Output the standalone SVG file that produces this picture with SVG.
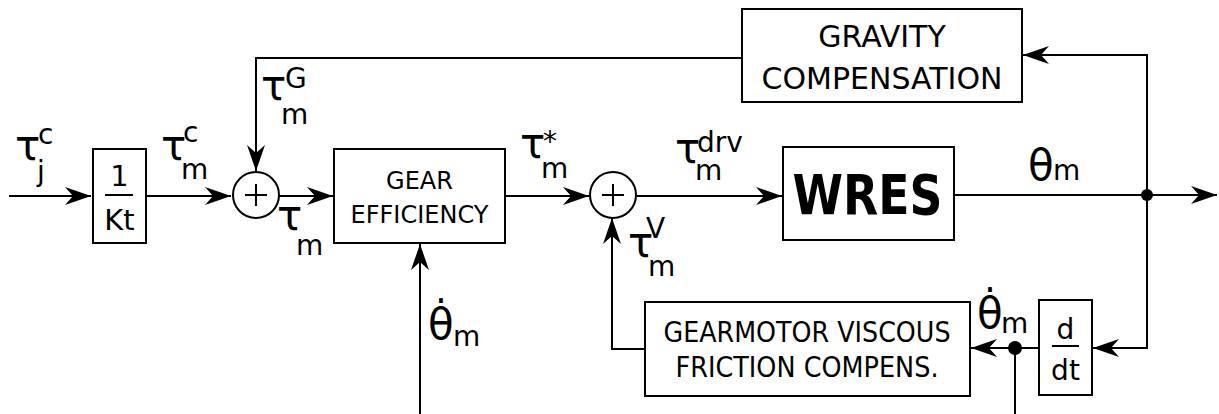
<svg xmlns="http://www.w3.org/2000/svg" width="1219" height="414" viewBox="0 0 1219 414">
<style>
text{font-family:"DejaVu Sans","Liberation Sans",sans-serif;fill:#000}
.box{fill:#fff;stroke:#000;stroke-width:2}
.ln{fill:none;stroke:#000;stroke-width:2}
.big{font-size:42px}
.sm{font-size:28px}
.bt{text-anchor:middle}
</style>
<defs>
<marker id="ar" markerUnits="userSpaceOnUse" viewBox="-28 -10 30 20" refX="0" refY="0" markerWidth="30" markerHeight="20" orient="auto">
<path d="M0,0 L-26,-9 L-18,0 L-26,9 Z" fill="#000"/>
</marker>
</defs>
<g id="connectors">
<path class="ln" d="M9,196 H91" marker-end="url(#ar)"/>
<path class="ln" d="M146,196 H231" marker-end="url(#ar)"/>
<path class="ln" d="M279,196 H333" marker-end="url(#ar)"/>
<path class="ln" d="M505,196 H589" marker-end="url(#ar)"/>
<path class="ln" d="M637,196 H782" marker-end="url(#ar)"/>
<path class="ln" d="M954,195 H1217" marker-end="url(#ar)"/>
<path class="ln" d="M1147,195 V55 H1023" marker-end="url(#ar)"/>
<path class="ln" d="M1147,195 V348 H1093" marker-end="url(#ar)"/>
<path class="ln" d="M742,58 H256 V171" marker-end="url(#ar)"/>
<path class="ln" d="M1039,348 H971" marker-end="url(#ar)"/>
<path class="ln" d="M1015,348 V414"/>
<path class="ln" d="M645,349 H612 V218" marker-end="url(#ar)"/>
<path class="ln" d="M420,414 V244" marker-end="url(#ar)"/>
<circle cx="1147" cy="195" r="6" fill="#000"/>
<circle cx="1015" cy="348" r="7" fill="#000"/>
</g>
<g id="kt">
<rect class="box" x="93" y="149" width="53" height="94"/>
<text class="bt" x="119.5" y="186" font-size="29">1</text>
<line class="ln" x1="105" y1="195" x2="133" y2="195" stroke-width="1.5"/>
<text class="bt" x="119.5" y="230" font-size="29">Kt</text>
</g>
<g id="sum1">
<circle class="box" cx="256" cy="195" r="23"/>
<path class="ln" d="M245,195 H267 M256,184 V206"/>
</g>
<g id="sum2">
<circle class="box" cx="613" cy="195" r="23"/>
<path class="ln" d="M602,195 H624 M613,184 V206"/>
</g>
<g id="gear">
<rect class="box" x="334" y="149" width="171" height="94"/>
<text class="bt" x="419.5" y="189" font-size="24">GEAR</text>
<text class="bt" x="419.5" y="223" font-size="24">EFFICIENCY</text>
</g>
<g id="wres">
<rect class="box" x="783" y="147" width="171" height="93"/>
<text class="bt" x="867.5" y="214" font-size="56" font-weight="bold" textLength="150" lengthAdjust="spacingAndGlyphs">WRES</text>
</g>
<g id="gravity">
<rect class="box" x="742" y="9" width="280" height="93"/>
<text class="bt" x="882" y="47" font-size="30">GRAVITY</text>
<text class="bt" x="882" y="89" font-size="30">COMPENSATION</text>
</g>
<g id="viscous">
<rect class="box" x="645" y="302" width="325" height="94"/>
<text class="bt" x="807" y="342" font-size="28" textLength="287" lengthAdjust="spacingAndGlyphs">GEARMOTOR VISCOUS</text>
<text class="bt" x="807" y="377" font-size="28" textLength="263" lengthAdjust="spacingAndGlyphs">FRICTION COMPENS.</text>
</g>
<g id="ddt">
<rect class="box" x="1039" y="300" width="53" height="95"/>
<text class="bt" x="1065.5" y="339" font-size="28">d</text>
<line class="ln" x1="1052" y1="346" x2="1079" y2="346" stroke-width="1.5"/>
<text class="bt" x="1065.5" y="380" font-size="28">dt</text>
</g>
<g id="labels">
<text class="big" x="15" y="160">τ<tspan class="sm" x="38" y="144">c</tspan><tspan class="sm" x="37" y="181">j</tspan></text>
<text class="big" x="161" y="160">τ<tspan class="sm" x="183" y="142">c</tspan><tspan class="sm" x="181" y="179">m</tspan></text>
<text class="big" x="261" y="100">τ<tspan class="sm" x="285" y="88">G</tspan><tspan class="sm" x="281" y="124">m</tspan></text>
<text class="big" x="277" y="230">τ<tspan class="sm" x="296" y="255">m</tspan></text>
<text class="big" x="520" y="158">τ<tspan class="sm" x="543" y="151">*</tspan><tspan class="sm" x="541" y="178">m</tspan></text>
<text class="big" x="675" y="163">τ<tspan class="sm" x="697" y="152">drv</tspan><tspan class="sm" x="695" y="180">m</tspan></text>
<text class="big" x="628" y="257">τ<tspan class="sm" x="646" y="238">V</tspan><tspan class="sm" x="648" y="276">m</tspan></text>
<text class="big" x="1028" y="180">θ<tspan class="sm" x="1053" y="180">m</tspan></text>
<text class="big" x="428" y="339">θ&#x307;<tspan class="sm" x="453" y="346">m</tspan></text>
<text class="big" x="977" y="328" font-size="40">θ&#x307;<tspan class="sm" x="1001" y="333">m</tspan></text>
</g>
</svg>
